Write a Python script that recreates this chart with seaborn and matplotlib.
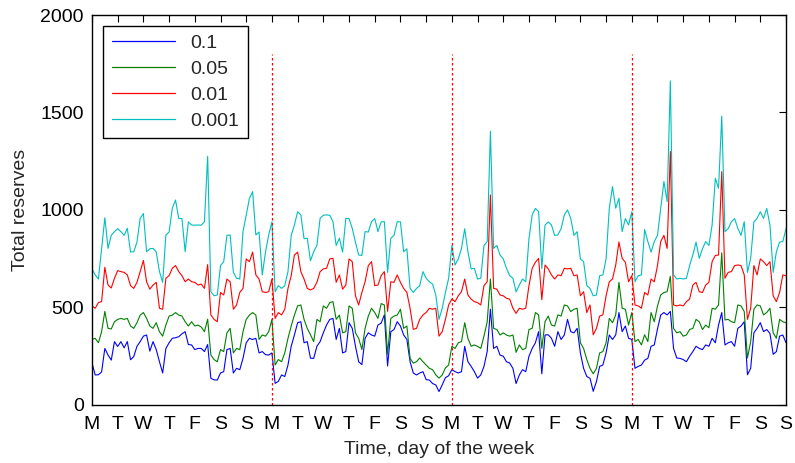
import numpy as np
import pandas as pd
import matplotlib
matplotlib.use("Agg")
import matplotlib.pyplot as plt
import seaborn as sns

# each row = one day (Mon..Sun x4), 8 samples per day (every 3 h); last value = end of day 27
reserves_01 = [
    215, 154, 155, 170, 290, 256, 230, 325,
    300, 325, 293, 325, 232, 248, 301, 325,
    353, 359, 276, 325, 284, 222, 164, 290,
    319, 342, 345, 350, 365, 376, 310, 308,
    284, 290, 290, 274, 310, 137, 129, 128,
    164, 171, 284, 290, 164, 188, 181, 239,
    319, 342, 336, 342, 267, 274, 258, 256,
    267, 111, 121, 154, 146, 205, 301, 359,
    422, 427, 319, 325, 240, 239, 301, 325,
    370, 410, 439, 444, 336, 393, 267, 274,
    422, 393, 301, 222, 207, 342, 370, 359,
    353, 410, 420, 462, 200, 376, 387, 427,
    405, 359, 336, 222, 164, 154, 164, 171,
    130, 128, 110, 103, 69, 103, 140, 150,
    181, 171, 164, 171, 301, 222, 198, 171,
    138, 154, 198, 274, 491, 290, 301, 256,
    250, 222, 215, 188, 110, 154, 181, 171,
    250, 290, 319, 376, 160, 359, 360, 342,
    301, 376, 336, 359, 439, 376, 370, 393,
    267, 188, 146, 137, 70, 120, 198, 205,
    267, 359, 336, 359, 474, 376, 405, 342,
    336, 188, 198, 205, 230, 239, 301, 308,
    390, 461, 474, 462, 480, 290, 241, 239,
    233, 222, 250, 274, 301, 290, 284, 308,
    301, 342, 319, 410, 474, 308, 319, 325,
    301, 393, 405, 427, 155, 188, 370, 393,
    422, 376, 387, 367, 260, 274, 353, 359,
    319]

reserves_005 = [
    336, 342, 319, 376, 480, 393, 390, 427,
    439, 444, 439, 444, 405, 393, 422, 461,
    474, 444, 405, 393, 422, 376, 353, 410,
    456, 461, 474, 461, 456, 427, 405, 427,
    405, 410, 400, 376, 440, 256, 233, 222,
    284, 274, 370, 393, 267, 290, 284, 376,
    439, 461, 474, 461, 336, 359, 353, 376,
    439, 205, 233, 222, 267, 342, 405, 461,
    508, 513, 439, 393, 360, 325, 439, 427,
    508, 496, 525, 530, 439, 461, 370, 376,
    508, 496, 370, 342, 284, 393, 456, 496,
    474, 444, 520, 513, 260, 444, 456, 461,
    491, 393, 405, 239, 215, 222, 241, 222,
    205, 188, 181, 154, 138, 154, 190, 205,
    301, 290, 319, 325, 422, 342, 301, 308,
    301, 290, 353, 427, 646, 393, 387, 359,
    370, 359, 353, 359, 270, 308, 284, 290,
    387, 393, 474, 462, 290, 427, 456, 410,
    405, 462, 456, 513, 508, 479, 491, 496,
    319, 290, 233, 188, 160, 188, 267, 274,
    319, 444, 422, 462, 629, 496, 491, 410,
    474, 325, 336, 308, 360, 325, 474, 427,
    508, 564, 577, 581, 660, 393, 370, 376,
    353, 359, 387, 393, 439, 427, 387, 410,
    396, 496, 491, 513, 780, 436, 439, 427,
    422, 513, 508, 479, 241, 325, 491, 513,
    508, 462, 474, 496, 370, 342, 439, 427,
    422]

reserves_001 = [
    508, 496, 525, 530, 706, 615, 600, 650,
    689, 684, 680, 667, 612, 598, 629, 684,
    741, 632, 594, 615, 629, 496, 491, 650,
    663, 701, 715, 684, 663, 632, 646, 632,
    629, 615, 620, 598, 720, 462, 439, 427,
    577, 564, 646, 632, 491, 513, 577, 598,
    749, 735, 784, 667, 646, 581, 577, 581,
    646, 444, 474, 462, 491, 598, 663, 769,
    784, 684, 646, 598, 590, 598, 629, 684,
    698, 701, 749, 752, 629, 667, 594, 615,
    749, 735, 560, 513, 577, 632, 715, 735,
    612, 615, 663, 684, 480, 632, 629, 667,
    629, 598, 577, 496, 388, 393, 439, 462,
    474, 496, 491, 496, 353, 376, 439, 513,
    543, 530, 560, 581, 646, 564, 543, 530,
    525, 513, 612, 632, 1077, 598, 594, 564,
    560, 547, 543, 496, 470, 496, 491, 496,
    612, 701, 732, 752, 540, 718, 698, 667,
    646, 667, 663, 701, 698, 701, 663, 667,
    560, 581, 474, 513, 360, 393, 456, 462,
    560, 632, 646, 718, 836, 752, 732, 632,
    663, 513, 508, 496, 577, 564, 646, 632,
    715, 838, 870, 803, 1300, 513, 508, 513,
    508, 530, 543, 615, 629, 581, 577, 615,
    629, 735, 767, 769, 1197, 650, 680, 684,
    715, 718, 715, 667, 439, 496, 715, 667,
    749, 735, 715, 735, 560, 530, 577, 667,
    663]

reserves_0001 = [
    698, 667, 646, 803, 960, 803, 870, 889,
    904, 889, 870, 906, 784, 786, 835, 957,
    982, 786, 801, 803, 784, 684, 629, 872,
    887, 1009, 1051, 957, 956, 786, 939, 923,
    922, 923, 922, 940, 1275, 581, 560, 564,
    715, 735, 870, 872, 680, 650, 646, 889,
    973, 1060, 1094, 872, 887, 667, 784, 872,
    939, 581, 612, 598, 612, 684, 870, 923,
    991, 975, 853, 855, 740, 786, 818, 957,
    973, 975, 973, 940, 818, 855, 784, 957,
    956, 906, 835, 769, 767, 889, 887, 940,
    956, 889, 939, 940, 680, 855, 870, 940,
    939, 786, 801, 598, 577, 598, 612, 684,
    650, 632, 620, 564, 439, 496, 577, 650,
    818, 718, 749, 803, 904, 786, 698, 701,
    646, 650, 818, 838, 1404, 803, 818, 769,
    749, 701, 663, 650, 580, 615, 646, 632,
    853, 975, 1008, 992, 700, 923, 939, 923,
    870, 872, 904, 975, 1000, 957, 870, 889,
    749, 735, 612, 598, 560, 564, 663, 667,
    749, 1009, 1120, 1009, 1060, 889, 956, 923,
    991, 632, 663, 667, 900, 838, 784, 838,
    870, 1009, 1146, 1043, 1662, 667, 646, 650,
    646, 650, 715, 769, 835, 752, 801, 838,
    818, 923, 1163, 1111, 1481, 889, 904, 940,
    956, 906, 870, 940, 680, 752, 939, 957,
    991, 957, 1008, 923, 680, 786, 835, 838,
    904]

samples_per_day = 8
time_days = [i / samples_per_day for i in range(len(reserves_01))]

series_labels = ["0.1", "0.05", "0.01", "0.001"]
series_colors = ["#0000ff", "#008000", "#ff0000", "#00bfbf"]
day_labels = ["M", "T", "W", "T", "F", "S", "S"] * 4
week_starts = [7, 14, 21]
week_line_top = 1800

frames = []
for lab, vals in zip(series_labels, [reserves_01, reserves_005, reserves_001, reserves_0001]):
    frames.append(pd.DataFrame({"t": time_days, "v": vals, "s": lab}))
df = pd.concat(frames, ignore_index=True)

sns.set_style("white")
plt.rcParams["font.family"] = ["Liberation Sans", "DejaVu Sans"]

fig = plt.figure(figsize=(7.95, 4.63), dpi=100)
ax = fig.add_axes([0.1157, 0.1253, 0.873, 0.8423])

sns.lineplot(data=df, x="t", y="v", hue="s", hue_order=series_labels,
             palette=series_colors, linewidth=0.8, ax=ax, legend=True,
             estimator=None, sort=False)

for w in week_starts:
    ax.plot([w, w], [0, week_line_top], color="#ff0000", linewidth=0.9,
            linestyle=(0, (2, 2)))

ax.set_xlim(0, 27)
ax.set_ylim(0, 2000)
ax.set_xticks(range(len(day_labels)))
ax.set_xticklabels(day_labels)
ax.set_yticks([0, 500, 1000, 1500, 2000])
ax.tick_params(direction="in", top=True, right=True, length=5, width=0.8,
               labelsize=14, colors="black")
ax.tick_params(axis="x", pad=8)
ax.tick_params(axis="y", pad=6)
for sp in ax.spines.values():
    sp.set_visible(True)
    sp.set_color("black")
    sp.set_linewidth(1.0)
ax.set_xlabel("Time, day of the week", fontsize=14, labelpad=6)
ax.set_ylabel("Total reserves", fontsize=14, labelpad=8)

handles, labels = ax.get_legend_handles_labels()
leg = ax.legend(handles, labels, loc="upper left", fontsize=14, frameon=True,
                fancybox=False, edgecolor="black", framealpha=1,
                handlelength=3.25, handletextpad=0.8, borderpad=0.45,
                labelspacing=0.42, borderaxespad=0.0,
                bbox_to_anchor=(0.016, 0.972))
leg.get_frame().set_linewidth(1.0)
for h in leg.get_lines():
    h.set_linewidth(0.9)

fig.savefig("out.png", dpi=100)
